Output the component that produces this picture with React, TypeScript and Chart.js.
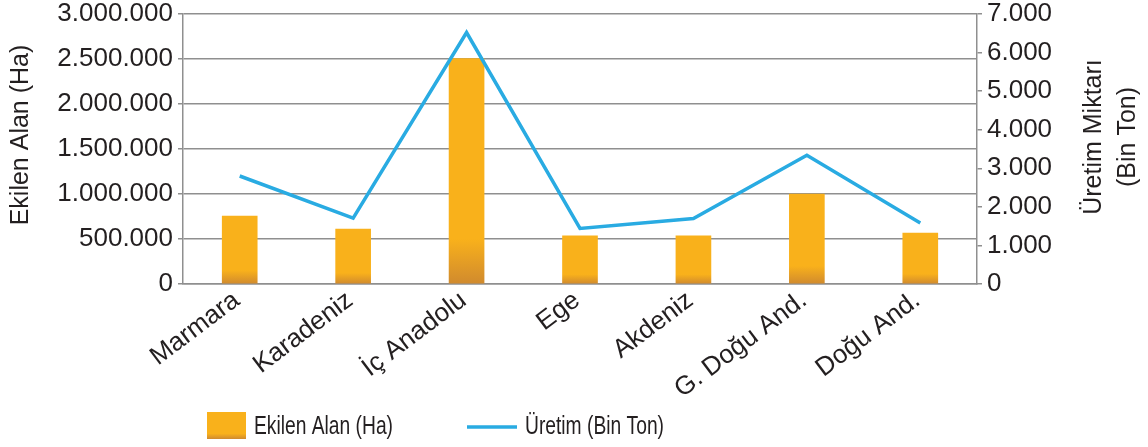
import React, { useEffect, useRef } from 'react';
import { Chart, registerables } from 'chart.js';

Chart.register(...registerables);

// ---- Data ----
const categories = ['Marmara', 'Karadeniz', 'İç Anadolu', 'Ege', 'Akdeniz', 'G. Doğu And.', 'Doğu And.'];
const ekilenAlan = [755000, 610000, 2505000, 535000, 535000, 1000000, 565000];
const uretim = [2800, 1710, 6520, 1440, 1700, 3340, 1580];

const leftAxisMax = 3000000;
const leftAxisStep = 500000;
const rightAxisMax = 7000;
const rightAxisStep = 1000;

const barLabel = 'Ekilen Alan (Ha)';
const lineLabel = 'Üretim (Bin Ton)';
const leftTitle = 'Ekilen Alan (Ha)';
const rightTitleLines = ['Üretim Miktarı', '(Bin Ton)'];

// ---- Styles ----
const FONT = "'Liberation Sans', Arial, Helvetica, sans-serif";
const TEXT = '#231f20';
const BAR_COLOR = '#f9b11b';
const BAR_DARK = '#d08a2e';
const LINE_COLOR = '#29abe2';
const GRID = '#8f8f8f';

const fmt = (v: number) => String(Math.round(v)).replace(/\B(?=(\d{3})+(?!\d))/g, '.');

const decorPlugin = {
  id: 'decor',
  afterDraw(chart: any) {
    const ctx: CanvasRenderingContext2D = chart.ctx;
    ctx.save();
    ctx.fillStyle = TEXT;
    ctx.textAlign = 'center';
    ctx.textBaseline = 'middle';
    ctx.font = `25px ${FONT}`;
    // left axis title
    ctx.save();
    ctx.translate(21, 135);
    ctx.rotate(-Math.PI / 2);
    ctx.fillText(leftTitle, 0, 0);
    ctx.restore();
    // right axis title
    const xs = [1094, 1128];
    rightTitleLines.forEach((t, i) => {
      ctx.save();
      ctx.translate(xs[i], 137);
      ctx.rotate(-Math.PI / 2);
      ctx.fillText(t, 0, 0);
      ctx.restore();
    });

    // legend
    const bx = 207, by = 412, bw = 39, bh = 27;
    const g = ctx.createLinearGradient(0, by, 0, by + bh);
    g.addColorStop(0, BAR_COLOR);
    g.addColorStop(0.8, BAR_COLOR);
    g.addColorStop(1, BAR_DARK);
    ctx.fillStyle = g;
    ctx.fillRect(bx, by, bw, bh);

    ctx.fillStyle = TEXT;
    ctx.textAlign = 'left';
    ctx.font = `26px ${FONT}`;
    ctx.save();
    ctx.translate(254, 427);
    ctx.scale(0.74, 1);
    ctx.fillText(barLabel, 0, 0);
    ctx.restore();

    ctx.strokeStyle = LINE_COLOR;
    ctx.lineWidth = 3.5;
    ctx.beginPath();
    ctx.moveTo(467, 427);
    ctx.lineTo(517, 427);
    ctx.stroke();

    ctx.save();
    ctx.translate(525, 427);
    ctx.scale(0.74, 1);
    ctx.fillText(lineLabel, 0, 0);
    ctx.restore();

    ctx.restore();
  },
};

export default function App() {
  const canvasRef = useRef<HTMLCanvasElement | null>(null);

  useEffect(() => {
    const canvas = canvasRef.current;
    if (!canvas) return;
    const chart = new Chart(canvas, {
      type: 'bar',
      data: {
        labels: categories,
        datasets: [
          {
            type: 'line',
            label: lineLabel,
            data: uretim,
            yAxisID: 'y1',
            borderColor: LINE_COLOR,
            borderWidth: 3.5,
            pointRadius: 0,
            tension: 0,
            fill: false,
            order: 0,
          } as any,
          {
            type: 'bar',
            label: barLabel,
            data: ekilenAlan,
            yAxisID: 'y',
            barThickness: 35,
            order: 1,
            backgroundColor: (c: any) => {
              const ch = c.chart;
              if (!ch.chartArea || c.type !== 'data') return BAR_COLOR;
              const ys = ch.scales.y;
              const top = ys.getPixelForValue(c.raw);
              const base = ys.getPixelForValue(0);
              if (!isFinite(top) || !isFinite(base) || top === base) return BAR_COLOR;
              const g = ch.ctx.createLinearGradient(0, top, 0, base);
              g.addColorStop(0, BAR_COLOR);
              g.addColorStop(0.8, BAR_COLOR);
              g.addColorStop(1, BAR_DARK);
              return g;
            },
          },
        ],
      },
      options: {
        responsive: false,
        animation: false,
        layout: { padding: { top: 14, left: 0, right: 0, bottom: 0 } },
        plugins: {
          legend: { display: false },
          tooltip: { enabled: false },
        },
        scales: {
          x: {
            grid: { display: false },
            border: { display: true, color: GRID, width: 1.5 },
            ticks: {
              minRotation: 37,
              maxRotation: 37,
              color: TEXT,
              padding: -7,
              labelOffset: -3,
              font: { family: FONT, size: 26 },
            },
            afterFit: (s: any) => {
              s.height = 163;
              s.paddingLeft = 0;
              s.paddingRight = 0;
            },
          },
          y: {
            position: 'left',
            min: 0,
            max: leftAxisMax,
            ticks: {
              stepSize: leftAxisStep,
              callback: (v: any) => fmt(Number(v)),
              color: TEXT,
              padding: 5,
              font: { family: FONT, size: 26, lineHeight: 1 },
            },
            grid: { color: GRID, lineWidth: 1.5, tickLength: 5, drawTicks: true },
            border: { display: true, color: GRID, width: 1.5 },
            afterFit: (s: any) => {
              s.width = 183;
              s.paddingTop = 0;
              s.paddingBottom = 0;
            },
          },
          y1: {
            position: 'right',
            min: 0,
            max: rightAxisMax,
            ticks: {
              stepSize: rightAxisStep,
              callback: (v: any) => fmt(Number(v)),
              color: TEXT,
              padding: 5,
              font: { family: FONT, size: 26, lineHeight: 1 },
            },
            grid: { drawOnChartArea: false, color: GRID, lineWidth: 1.5, tickLength: 5, drawTicks: true },
            border: { display: true, color: GRID, width: 1.5 },
            afterFit: (s: any) => {
              s.width = 171;
              s.paddingTop = 0;
              s.paddingBottom = 0;
            },
          },
        },
      } as any,
      plugins: [decorPlugin],
    });
    return () => chart.destroy();
  }, []);

  return (
    <div style={{ position: 'fixed', left: 0, top: 0, width: 1148, height: 447, background: '#fff' }}>
      <canvas ref={canvasRef} width={1148} height={447} style={{ display: 'block' }} />
    </div>
  );
}
